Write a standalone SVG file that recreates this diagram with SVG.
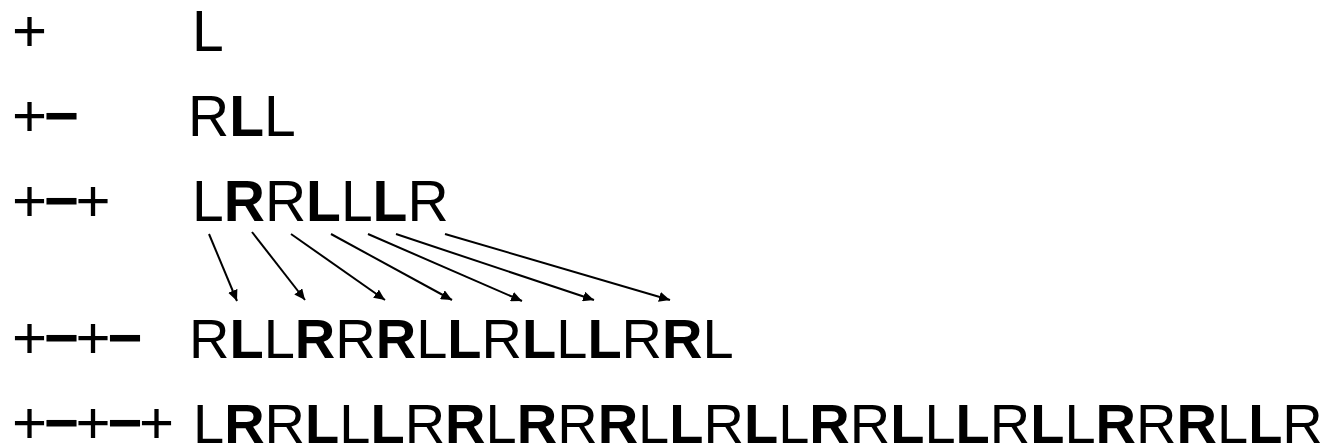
<svg xmlns="http://www.w3.org/2000/svg" width="1338" height="448" viewBox="0 0 1338 448">
<style>
.sym{font-family:"Liberation Sans",Arial,sans-serif;font-size:60px;letter-spacing:-3.3px;fill:#000}
.m{font-weight:bold}
.seq{font-family:"Liberation Sans",Arial,sans-serif;fill:#000}
.b{font-weight:bold}
.arr{stroke:#000;stroke-width:2;fill:none}
</style>
<defs>
<marker id="ah" markerUnits="userSpaceOnUse" markerWidth="12" markerHeight="10" refX="11" refY="5" orient="auto">
<path d="M0,0 L11,5 L0,10 z" fill="#000"/>
</marker>
</defs>
<rect width="1338" height="448" fill="#fff"/>
<g id="row1">
<text class="sym" x="12" y="51">+</text>
<text class="seq" x="192" y="51" font-size="57">L</text>
</g>
<g id="row2">
<text class="sym" x="12" y="136">+<tspan class="m">−</tspan></text>
<text class="seq" x="188" y="136" font-size="57">R<tspan class="b">L</tspan>L</text>
</g>
<g id="row3">
<text class="sym" x="12" y="221">+<tspan class="m">−</tspan>+</text>
<text class="seq" x="192" y="221" font-size="57">L<tspan class="b">R</tspan>R<tspan class="b">L</tspan>L<tspan class="b">L</tspan>R</text>
</g>
<g id="row4">
<text class="sym" x="12" y="358">+<tspan class="m">−</tspan>+<tspan class="m">−</tspan></text>
<text class="seq" x="189" y="358" font-size="56">R<tspan class="b">L</tspan>L<tspan class="b">R</tspan>R<tspan class="b">R</tspan>L<tspan class="b">L</tspan>R<tspan class="b">L</tspan>L<tspan class="b">L</tspan>R<tspan class="b">R</tspan>L</text>
</g>
<g id="row5">
<text class="sym" x="12" y="443">+<tspan class="m">−</tspan>+<tspan class="m">−</tspan>+</text>
<text class="seq" x="193" y="443" font-size="56">L<tspan class="b">R</tspan>R<tspan class="b">L</tspan>L<tspan class="b">L</tspan>R<tspan class="b">R</tspan>L<tspan class="b">R</tspan>R<tspan class="b">R</tspan>L<tspan class="b">L</tspan>R<tspan class="b">L</tspan>L<tspan class="b">R</tspan>R<tspan class="b">L</tspan>L<tspan class="b">L</tspan>R<tspan class="b">L</tspan>L<tspan class="b">R</tspan>R<tspan class="b">R</tspan>L<tspan class="b">L</tspan>R</text>
</g>
<g id="connectors">
<line class="arr" x1="209" y1="234" x2="237" y2="301" marker-end="url(#ah)"/>
<line class="arr" x1="252" y1="232" x2="305" y2="300" marker-end="url(#ah)"/>
<line class="arr" x1="291" y1="234" x2="385" y2="300" marker-end="url(#ah)"/>
<line class="arr" x1="331" y1="234" x2="452" y2="300" marker-end="url(#ah)"/>
<line class="arr" x1="368" y1="234" x2="522" y2="301" marker-end="url(#ah)"/>
<line class="arr" x1="396" y1="234" x2="594" y2="300" marker-end="url(#ah)"/>
<line class="arr" x1="445" y1="234" x2="670" y2="300" marker-end="url(#ah)"/>
</g>
</svg>
